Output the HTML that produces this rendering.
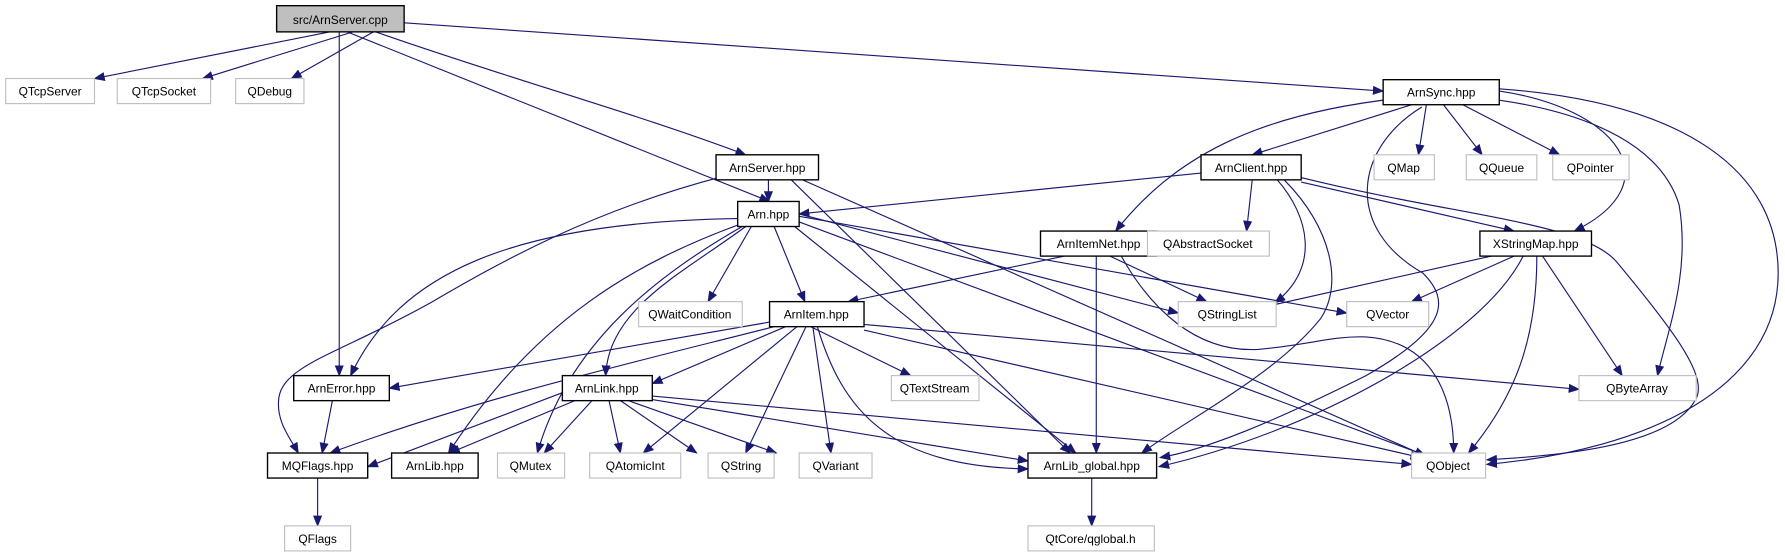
<!DOCTYPE html>
<html><head><meta charset="utf-8"><style>
html,body{margin:0;padding:0;background:#fff;}
svg{display:block;}
text{font-family:"Liberation Sans",Arial,sans-serif;font-size:10.5px;fill:#000;}
.b{fill:#fff;stroke:#000;stroke-width:1.2;}
.g{fill:#fff;stroke:#bfbfbf;stroke-width:1;}
.e{fill:none;stroke:#191970;stroke-width:1;marker-end:url(#a);}
</style></head><body>
<svg width="1785" height="560" viewBox="0 0 1568 492" preserveAspectRatio="none" xmlns="http://www.w3.org/2000/svg">
<defs><marker id="a" markerWidth="10" markerHeight="8" refX="9" refY="4" orient="auto" markerUnits="userSpaceOnUse"><path d="M0,0 L10,4 L0,8 z" fill="#191970"/></marker></defs>
<g>
<path class="e" d="M290,28 L83,69"/>
<path class="e" d="M310,28 L178,69"/>
<path class="e" d="M328,28 L256,69"/>
<path class="e" d="M298,28 L298,330"/>
<path class="e" d="M305,28 L676,177"/>
<path class="e" d="M330,28 C450,70 560,100 655,136"/>
<path class="e" d="M355,20 L1215,80"/>
<path class="e" d="M675,158 L675,177"/>
<path class="e" d="M635,155 C520,185 440,230 380,265 C300,310 250,320 245,349 C242,370 255,385 262,398"/>
<path class="e" d="M695,158 L940,398"/>
<path class="e" d="M705,158 L1262,405"/>
<path class="e" d="M660,199 L622,265"/>
<path class="e" d="M680,199 L707,265"/>
<path class="e" d="M648,192 C450,195 350,240 308,330"/>
<path class="e" d="M650,197 C560,230 470,280 394,398"/>
<path class="e" d="M652,199 C580,240 500,300 472,398"/>
<path class="e" d="M655,199 C600,240 535,270 532,330"/>
<path class="e" d="M702,188 L1035,275"/>
<path class="e" d="M702,190 L1183,275"/>
<path class="e" d="M698,199 L945,398"/>
<path class="e" d="M702,195 L1252,400"/>
<path class="e" d="M1240,92 L1100,136"/>
<path class="e" d="M1232,86 C1100,100 1030,140 980,203"/>
<path class="e" d="M1253,92 L1246,136"/>
<path class="e" d="M1268,92 L1302,136"/>
<path class="e" d="M1285,92 L1370,136"/>
<path class="e" d="M1317,80 C1420,95 1470,160 1383,203"/>
<path class="e" d="M1317,88 C1400,100 1460,130 1475,180 C1485,240 1465,290 1456,330"/>
<path class="e" d="M1317,78 C1480,90 1562,150 1562,240 C1562,340 1450,395 1306,408"/>
<path class="e" d="M1249,94 C1190,130 1180,200 1250,240 C1275,265 1270,290 1200,330 C1120,370 1060,395 1019,402"/>
<path class="e" d="M1055,152 L702,188"/>
<path class="e" d="M1100,158 L1095,203"/>
<path class="e" d="M1122,158 C1150,190 1160,235 1120,266"/>
<path class="e" d="M1128,158 C1170,200 1180,250 1160,280 C1120,330 1040,370 1003,398"/>
<path class="e" d="M1143,160 L1330,203"/>
<path class="e" d="M1143,156 C1280,190 1390,195 1420,230 C1470,290 1500,330 1490,350 C1470,390 1380,400 1306,404"/>
<path class="e" d="M935,225 L745,265"/>
<path class="e" d="M963,225 L963,398"/>
<path class="e" d="M975,225 L1060,265"/>
<path class="e" d="M985,225 C1010,270 1050,310 1105,307 C1150,303 1170,295 1200,296 C1260,300 1277,350 1277,398"/>
<path class="e" d="M1310,225 L1100,272"/>
<path class="e" d="M1330,225 L1240,265"/>
<path class="e" d="M1338,225 C1300,300 1150,380 1018,410"/>
<path class="e" d="M1350,225 C1350,300 1330,350 1290,398"/>
<path class="e" d="M1355,225 L1425,330"/>
<path class="e" d="M676,283 L342,341"/>
<path class="e" d="M680,287 C550,320 420,350 290,398"/>
<path class="e" d="M690,287 L573,337"/>
<path class="e" d="M712,287 L800,330"/>
<path class="e" d="M759,285 L1387,342"/>
<path class="e" d="M700,287 L565,398"/>
<path class="e" d="M708,287 L655,398"/>
<path class="e" d="M714,287 L730,398"/>
<path class="e" d="M718,287 C740,360 780,410 903,412"/>
<path class="e" d="M759,290 L1248,402"/>
<path class="e" d="M292,352 L283,398"/>
<path class="e" d="M494,345 L323,410"/>
<path class="e" d="M505,352 L395,398"/>
<path class="e" d="M520,352 L478,398"/>
<path class="e" d="M535,352 L545,398"/>
<path class="e" d="M545,352 L612,398"/>
<path class="e" d="M552,352 L682,398"/>
<path class="e" d="M573,351 L903,405"/>
<path class="e" d="M573,348 L1240,408"/>
<path class="e" d="M279,420 L279,462"/>
<path class="e" d="M959,420 L959,462"/>
</g>
<g>
<rect x="243" y="5" width="112" height="23" fill="#bfbfbf" stroke="#000" stroke-width="1.2"/><text x="299" y="21" text-anchor="middle">src/ArnServer.cpp</text>
<rect class="g" x="5" y="69" width="78" height="22"/><text x="44" y="84" text-anchor="middle">QTcpServer</text>
<rect class="g" x="103" y="69" width="82" height="22"/><text x="144" y="84" text-anchor="middle">QTcpSocket</text>
<rect class="g" x="207" y="69" width="60" height="22"/><text x="237" y="84" text-anchor="middle">QDebug</text>
<rect class="b" x="629" y="136" width="90" height="22"/><text x="674" y="151" text-anchor="middle">ArnServer.hpp</text>
<rect class="b" x="648" y="177" width="54" height="22"/><text x="675" y="192" text-anchor="middle">Arn.hpp</text>
<rect class="b" x="1215" y="70" width="102" height="22"/><text x="1266" y="85" text-anchor="middle">ArnSync.hpp</text>
<rect class="b" x="1055" y="136" width="88" height="22"/><text x="1099" y="151" text-anchor="middle">ArnClient.hpp</text>
<rect class="g" x="1207" y="136" width="53" height="22"/><text x="1233" y="151" text-anchor="middle">QMap</text>
<rect class="g" x="1288" y="136" width="62" height="22"/><text x="1319" y="151" text-anchor="middle">QQueue</text>
<rect class="g" x="1364" y="136" width="67" height="22"/><text x="1397" y="151" text-anchor="middle">QPointer</text>
<rect class="b" x="914" y="203" width="102" height="22"/><text x="965" y="218" text-anchor="middle">ArnItemNet.hpp</text>
<rect class="g" x="1008" y="203" width="107" height="22"/><text x="1061" y="218" text-anchor="middle">QAbstractSocket</text>
<rect class="b" x="1300" y="203" width="98" height="22"/><text x="1349" y="218" text-anchor="middle">XStringMap.hpp</text>
<rect class="g" x="561" y="265" width="91" height="22"/><text x="606" y="280" text-anchor="middle">QWaitCondition</text>
<rect class="b" x="676" y="265" width="83" height="22"/><text x="717" y="280" text-anchor="middle">ArnItem.hpp</text>
<rect class="g" x="1035" y="265" width="86" height="22"/><text x="1078" y="280" text-anchor="middle">QStringList</text>
<rect class="g" x="1183" y="265" width="72" height="22"/><text x="1219" y="280" text-anchor="middle">QVector</text>
<rect class="b" x="258" y="330" width="84" height="22"/><text x="300" y="345" text-anchor="middle">ArnError.hpp</text>
<rect class="b" x="494" y="330" width="79" height="22"/><text x="533" y="345" text-anchor="middle">ArnLink.hpp</text>
<rect class="g" x="783" y="330" width="77" height="22"/><text x="821" y="345" text-anchor="middle">QTextStream</text>
<rect class="g" x="1387" y="330" width="103" height="22"/><text x="1438" y="345" text-anchor="middle">QByteArray</text>
<rect class="b" x="235" y="398" width="88" height="22"/><text x="279" y="413" text-anchor="middle">MQFlags.hpp</text>
<rect class="b" x="344" y="398" width="76" height="22"/><text x="382" y="413" text-anchor="middle">ArnLib.hpp</text>
<rect class="g" x="437" y="398" width="59" height="22"/><text x="466" y="413" text-anchor="middle">QMutex</text>
<rect class="g" x="518" y="398" width="80" height="22"/><text x="558" y="413" text-anchor="middle">QAtomicInt</text>
<rect class="g" x="622" y="398" width="58" height="22"/><text x="651" y="413" text-anchor="middle">QString</text>
<rect class="g" x="702" y="398" width="64" height="22"/><text x="734" y="413" text-anchor="middle">QVariant</text>
<rect class="b" x="903" y="398" width="113" height="22"/><text x="959" y="413" text-anchor="middle">ArnLib_global.hpp</text>
<rect class="g" x="1240" y="398" width="65" height="22"/><text x="1272" y="413" text-anchor="middle">QObject</text>
<rect class="g" x="250" y="462" width="58" height="22"/><text x="279" y="477" text-anchor="middle">QFlags</text>
<rect class="g" x="903" y="462" width="111" height="22"/><text x="958" y="477" text-anchor="middle">QtCore/qglobal.h</text>
</g>
</svg>
</body></html>
